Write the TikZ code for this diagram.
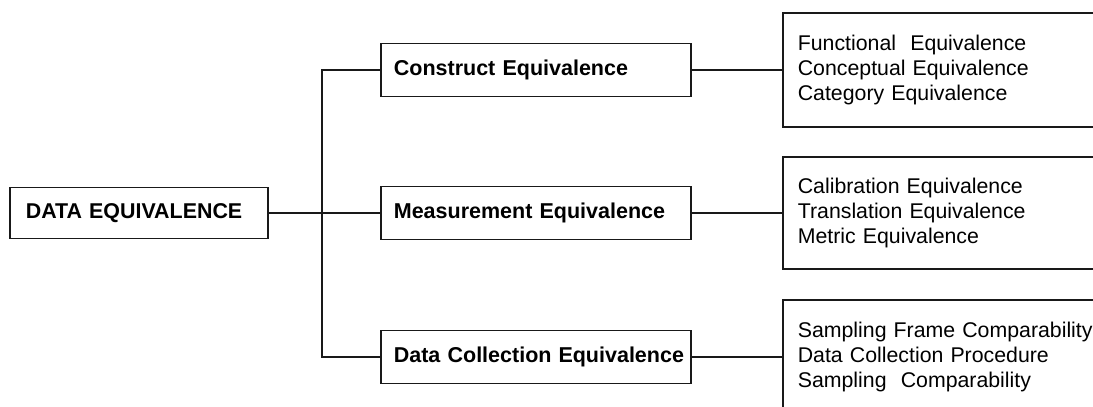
\documentclass[tikz,border=0pt]{standalone}
\usepackage{fontspec}
\setmainfont{Liberation Sans}
\begin{document}
\begin{tikzpicture}[x=1pt,y=-1pt,
  frame/.style={draw=black!90, line width=1.7pt},
  rootbox/.style={frame, anchor=west, minimum width=258, minimum height=51,
    inner sep=0pt, text width=226, align=left,
    font=\fontsize{21.4}{24}\selectfont\bfseries},
  midbox/.style={frame, anchor=west, minimum width=310, minimum height=53,
    inner sep=0pt, text width=284, align=left,
    font=\fontsize{21.5}{24}\selectfont\bfseries},
  listbox/.style={frame, anchor=west, minimum width=330,
    inner sep=0pt, text width=300, align=left,
    font=\fontsize{21.3}{24.7}\selectfont},
  link/.style={draw=black!90, line width=1.4pt}]
\useasboundingbox (0,0) rectangle (1093,407);
\clip (0,0) rectangle (1093,407);

% root
\node[rootbox] (de) at (9,213) {DATA EQUIVALENCE};

% second level
\node[midbox] (ce)  at (380,70)  {Construct Equivalence};
\node[midbox] (me)  at (380,213) {Measurement Equivalence};
\node[midbox] (dce) at (380,357) {\mbox{Data Collection\hspace{7pt}Equivalence}};

% third level (boxes run past the right and bottom edges)
\node[listbox, minimum height=114] (r1) at (782,70)
  {Functional\ \ Equivalence\\Conceptual Equivalence\\Category Equivalence};
\node[listbox, minimum height=112] (r2) at (782,213)
  {Calibration Equivalence\\Translation Equivalence\\Metric Equivalence};
\node[listbox, minimum height=114] (r3) at (782,357)
  {\mbox{Sampling Frame Comparability}\\Data Collection Procedure\\Sampling\ \ Comparability};

% tree connectors
\coordinate (spine) at (322,213);
\draw[link] (de.east) -- (me.west);
\draw[link] (ce.west) -| (spine) |- (dce.west);
\draw[link] (ce.east) -- (r1.west);
\draw[link] (me.east) -- (r2.west);
\draw[link] (dce.east) -- (r3.west);
\end{tikzpicture}
\end{document}
